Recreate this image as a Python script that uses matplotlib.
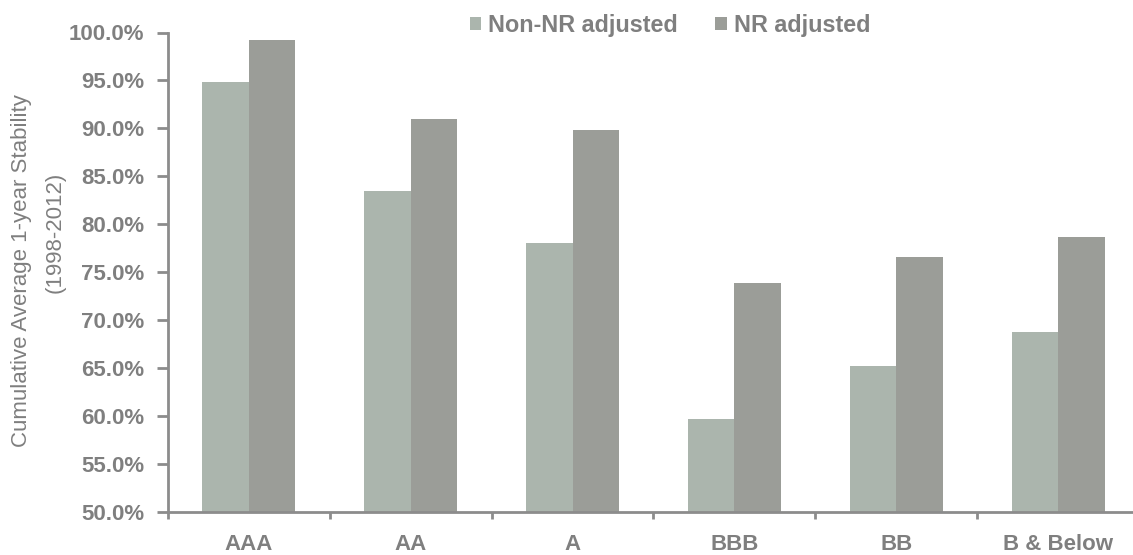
import matplotlib.pyplot as plt
import numpy as np

plt.rcParams['font.family'] = ['Liberation Sans', 'DejaVu Sans']

# ratings and the two stability series (percent)
categories = ["AAA", "AA", "A", "BBB", "BB", "B & Below"]
non_nr = [94.8, 83.5, 78.0, 59.7, 65.2, 68.8]
nr_adj = [99.2, 91.0, 89.8, 73.9, 76.6, 78.7]
y_ticks = [50, 55, 60, 65, 70, 75, 80, 85, 90, 95, 100]

GREY_TEXT = "#7f7f7f"
AXIS_GREY = "#8c8c8c"
C_NON = "#abb5ad"
C_NR = "#9b9d98"

W, H = 1133, 555
fig = plt.figure(figsize=(W / 100, H / 100), dpi=100)
# axes spans slightly past the right edge, like the original
ax = fig.add_axes([168 / W, (H - 511.7) / H, (1139 - 168) / W, (511.7 - 32.5) / H])

x = np.arange(len(categories))
bw = 0.287
ax.bar(x - bw / 2, np.array(non_nr) - 50, bw, bottom=50, color=C_NON, label="Non-NR adjusted")
ax.bar(x + bw / 2, np.array(nr_adj) - 50, bw, bottom=50, color=C_NR, label="NR adjusted")

ax.set_xlim(-0.5, len(categories) - 0.5)
ax.set_ylim(50, 100)

ax.set_yticks(y_ticks)
ax.set_yticklabels([f"{v:.1f}%" for v in y_ticks])
ax.set_xticks(x)
ax.set_xticklabels(categories)
ax.set_xticks(np.arange(len(categories) + 1) - 0.5, minor=True)

for s in ["top", "right"]:
    ax.spines[s].set_visible(False)
for s in ["left", "bottom"]:
    ax.spines[s].set_color(AXIS_GREY)
    ax.spines[s].set_linewidth(2)

ax.tick_params(axis="y", length=8, width=2, color=AXIS_GREY, pad=9,
               labelsize=16, labelcolor=GREY_TEXT)
ax.tick_params(axis="x", which="major", length=0, pad=16,
               labelsize=16, labelcolor=GREY_TEXT)
ax.tick_params(axis="x", which="minor", length=5, width=2, color=AXIS_GREY)
for lab in ax.get_xticklabels() + ax.get_yticklabels():
    lab.set_fontweight("bold")

# y label: two lines placed separately (the second sits a little higher)
fig.text(22 / W, 1 - 271 / H, "Cumulative Average 1-year Stability", rotation=90,
         ha="center", va="center", fontsize=16, color=GREY_TEXT)
fig.text(55 / W, 1 - 232 / H, "(1998-2012)", rotation=90,
         ha="center", va="center", fontsize=16, color=GREY_TEXT)

leg = ax.legend(loc="upper left", bbox_to_anchor=(458 / W, 1 - 2 / H),
                bbox_transform=fig.transFigure, ncol=2, frameon=False,
                borderpad=0, handlelength=0.5, handleheight=0.5, handletextpad=0.3,
                columnspacing=1.6, prop={"weight": "bold", "size": 16.8})
for t in leg.get_texts():
    t.set_color(GREY_TEXT)

fig.savefig("out.png", dpi=100)
